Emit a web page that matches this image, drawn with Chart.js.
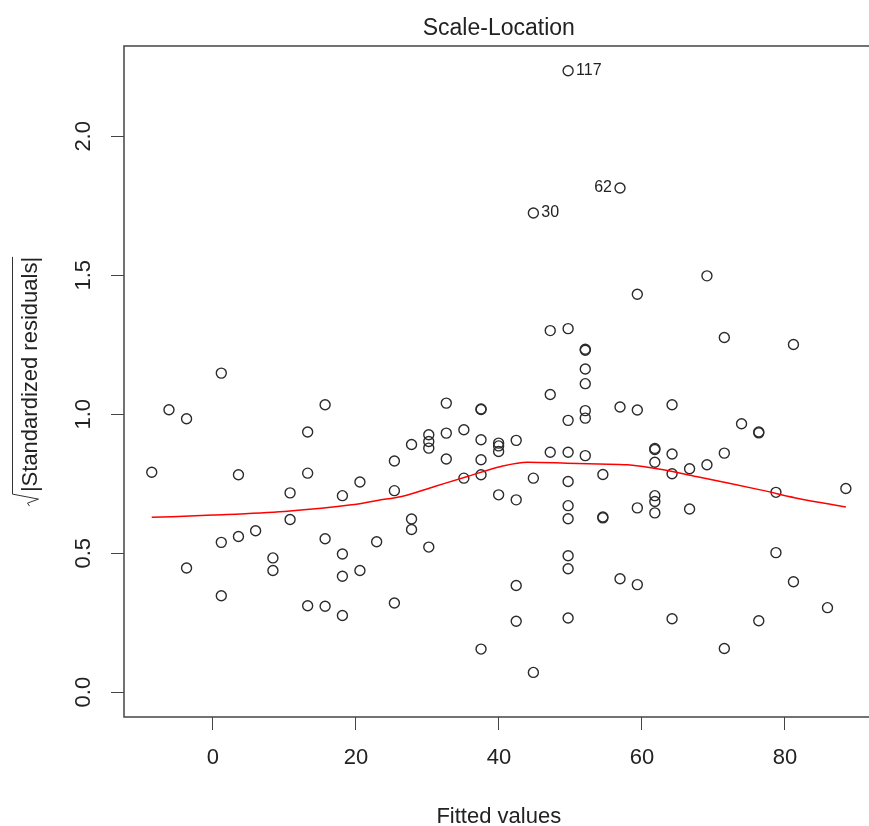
<!DOCTYPE html>
<html>
<head>
<meta charset="utf-8">
<title>Scale-Location</title>
<script src="https://cdn.jsdelivr.net/npm/chart.js@4.4.1/dist/chart.umd.min.js"></script>
<style>
  html, body { margin: 0; padding: 0; background: #fff; overflow: hidden; }
  #wrap { width: 880px; height: 826px; }
</style>
</head>
<body>
<div id="wrap"><canvas id="plot" width="880" height="826"></canvas></div>
<script>
// Fitted values (x) and sqrt(|standardized residuals|) (y)
const fittedValues = [
  -8.56,
  -6.15,
  -3.69, -3.69,
  1.17, 1.17, 1.17,
  3.57, 3.57,
  5.97,
  8.39, 8.39,
  10.79, 10.79,
  13.25, 13.25, 13.25,
  15.69, 15.69, 15.69,
  18.11, 18.11, 18.11, 18.11,
  20.56, 20.56,
  22.90,
  25.38, 25.38, 25.38,
  27.78, 27.78, 27.78,
  30.19, 30.19, 30.19, 30.19,
  32.64, 32.64, 32.64,
  35.10, 35.10,
  37.50, 37.50, 37.50, 37.50, 37.50, 37.50,
  39.96, 39.96, 39.96, 39.96,
  42.42, 42.42, 42.42, 42.42,
  44.82, 44.82, 44.82,
  47.18, 47.18, 47.18,
  49.68, 49.68, 49.68, 49.68, 49.68, 49.68, 49.68, 49.68, 49.68, 49.68,
  52.08, 52.08, 52.08, 52.08, 52.08, 52.08, 52.08,
  54.54, 54.54, 54.54,
  56.94, 56.94, 56.94,
  59.36, 59.36, 59.36, 59.36,
  61.81, 61.81, 61.81, 61.81, 61.81, 61.81,
  64.22, 64.22, 64.22, 64.22,
  66.67, 66.67,
  69.10, 69.10,
  71.53, 71.53, 71.53,
  73.94,
  76.35, 76.35, 76.35,
  78.75, 78.75,
  81.20, 81.20,
  85.96,
  88.53
];
const sqrtResiduals = [
  0.791,
  1.016,
  0.984, 0.447,
  1.148, 0.539, 0.347,
  0.782, 0.560,
  0.581,
  0.483, 0.438,
  0.717, 0.621,
  0.936, 0.788, 0.311,
  1.034, 0.552, 0.309,
  0.707, 0.497, 0.417, 0.276,
  0.756, 0.438,
  0.541,
  0.832, 0.725, 0.321,
  0.891, 0.623, 0.585,
  0.926, 0.902, 0.878, 0.522,
  1.040, 0.932, 0.839,
  0.944, 0.770,
  1.019, 1.017, 0.908, 0.836, 0.782, 0.155,
  0.896, 0.886, 0.866, 0.710,
  0.906, 0.692, 0.384, 0.255,
  1.724, 0.770, 0.071,
  1.301, 1.071, 0.863,
  2.236, 1.308, 0.978, 0.863, 0.758, 0.671, 0.624, 0.491, 0.444, 0.267,
  1.234, 1.230, 1.163, 1.110, 1.013, 0.986, 0.851,
  0.783, 0.630, 0.627,
  1.814, 1.026, 0.408,
  1.432, 1.015, 0.663, 0.387,
  0.877, 0.873, 0.827, 0.707, 0.686, 0.645,
  1.034, 0.857, 0.786, 0.264,
  0.804, 0.659,
  1.498, 0.818,
  1.276, 0.860, 0.157,
  0.966,
  0.936, 0.933, 0.257,
  0.719, 0.502,
  1.251, 0.397,
  0.304,
  0.733
];

// red smoother
const smoothX = [-8.56, 0, 10, 19.4, 23, 26.4, 31, 35.6, 40.3, 44, 49.5, 54, 58, 63, 67.6, 72.2, 76.9, 81.5, 88.53];
const smoothY = [0.629, 0.637, 0.650, 0.674, 0.690, 0.704, 0.740, 0.776, 0.812, 0.827, 0.824, 0.821, 0.818, 0.800, 0.776, 0.752, 0.726, 0.699, 0.666];

// labelled observations
const outlierIds = ["117", "62", "30"];
const outlierX = [49.68, 56.94, 44.82];
const outlierY = [2.236, 1.814, 1.724];

const xTicks = [0, 20, 40, 60, 80];
const yTicks = [0, 0.5, 1.0, 1.5, 2.0];

const mainTitle = "Scale-Location";
const xTitle = "Fitted values";
const yTitle = "|Standardized residuals|";

const FONT = '"Liberation Sans", Arial, Helvetica, sans-serif';
const INK = "#222";

const points = fittedValues.map((v, i) => ({ x: v, y: sqrtResiduals[i] }));
const smoothLine = smoothX.map((v, i) => ({ x: v, y: smoothY[i] }));

// box, titles, outlier ids and the sqrt y label
const rDecor = {
  id: "rDecor",
  afterDraw(chart) {
    const { ctx, chartArea: a, scales } = chart;
    const cx = (a.left + a.right) / 2;
    const cy = (a.top + a.bottom) / 2;
    ctx.save();

    ctx.strokeStyle = "#444";
    ctx.lineWidth = 1.5;
    ctx.strokeRect(a.left, a.top, a.right - a.left, a.bottom - a.top);

    ctx.fillStyle = INK;
    ctx.textAlign = "center";
    ctx.textBaseline = "alphabetic";
    ctx.font = "23px " + FONT;
    ctx.fillText(mainTitle, cx, 35);
    ctx.font = "22px " + FONT;
    ctx.fillText(xTitle, cx, 823);

    ctx.font = "16px " + FONT;
    ctx.textBaseline = "middle";
    outlierIds.forEach((id, i) => {
      const px = scales.x.getPixelForValue(outlierX[i]);
      const py = scales.y.getPixelForValue(outlierY[i]);
      if (id === "62") {
        ctx.textAlign = "right";
        ctx.fillText(id, px - 8, py);
      } else {
        ctx.textAlign = "left";
        ctx.fillText(id, px + 8, py);
      }
    });

    // rotated y label with a drawn radical sign
    ctx.translate(36.5, cy);
    ctx.rotate(-Math.PI / 2);
    ctx.font = "22px " + FONT;
    ctx.textAlign = "left";
    ctx.textBaseline = "alphabetic";
    const tw = ctx.measureText(yTitle).width;
    const rad = 14;
    const s = -(rad + tw) / 2;
    ctx.strokeStyle = "#333";
    ctx.lineWidth = 1;
    ctx.beginPath();
    ctx.moveTo(s, -7);
    ctx.lineTo(s + 3, -9);
    ctx.lineTo(s + 7, 2);
    ctx.lineTo(s + 12, -24);
    ctx.lineTo(s + rad + tw, -24);
    ctx.stroke();
    ctx.fillText(yTitle, s + rad, 0);

    ctx.restore();
  }
};

const ctx = document.getElementById("plot").getContext("2d");
new Chart(ctx, {
  data: {
    datasets: [
      {
        type: "scatter",
        data: points,
        pointStyle: "circle",
        pointRadius: 5,
        pointBorderWidth: 1.4,
        pointBorderColor: "#2b2b2b",
        pointBackgroundColor: "rgba(0,0,0,0)",
        order: 2
      },
      {
        type: "line",
        data: smoothLine,
        borderColor: "#ff0000",
        borderWidth: 1.5,
        pointRadius: 0,
        fill: false,
        cubicInterpolationMode: "monotone",
        order: 1
      }
    ]
  },
  options: {
    responsive: false,
    animation: false,
    layout: { padding: { top: 46, right: 1, left: 0, bottom: 0 } },
    plugins: {
      legend: { display: false },
      tooltip: { enabled: false },
      title: { display: false }
    },
    scales: {
      x: {
        type: "linear",
        min: -12.44,
        max: 92.41,
        afterBuildTicks: (scale) => { scale.ticks = xTicks.map(v => ({ value: v })); },
        afterFit: (scale) => { scale.height = 109; },
        border: { display: false },
        grid: { drawOnChartArea: false, drawTicks: true, tickLength: 13, color: "#444", lineWidth: 1 },
        ticks: {
          color: INK,
          font: { family: FONT, size: 22 },
          padding: 15,
          maxRotation: 0,
          callback: (v) => String(v)
        }
      },
      y: {
        type: "linear",
        min: -0.0894,
        max: 2.325,
        afterBuildTicks: (scale) => { scale.ticks = yTicks.map(v => ({ value: v })); },
        afterFit: (scale) => { scale.width = 124; },
        border: { display: false },
        grid: { drawOnChartArea: false, drawTicks: true, tickLength: 13, color: "#444", lineWidth: 1 },
        ticks: {
          color: INK,
          font: { family: FONT, size: 22 },
          padding: 12,
          minRotation: 90,
          maxRotation: 90,
          crossAlign: "center",
          callback: (v) => Number(v).toFixed(1)
        }
      }
    }
  },
  plugins: [rDecor]
});
</script>
</body>
</html>
